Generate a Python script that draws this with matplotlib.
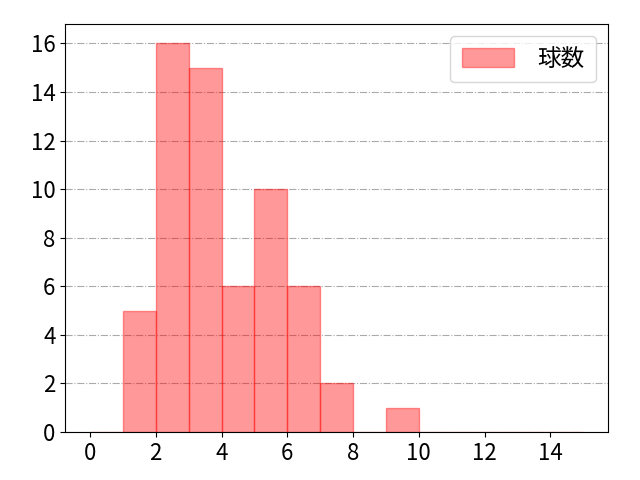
import numpy as np
import matplotlib
matplotlib.use('Agg')
import matplotlib.pyplot as plt

plt.rcParams['font.family'] = ['Noto Sans CJK JP', 'DejaVu Sans']

bin_edges = np.arange(0, 16)
counts = [0, 5, 16, 15, 6, 10, 6, 2, 0, 1, 0, 0, 0, 0, 0]
label = '球数'

fig, ax = plt.subplots(figsize=(6.4, 4.8), dpi=100)
fig.subplots_adjust(left=0.102, right=0.95, top=0.95, bottom=0.1)
ax.hist(bin_edges[:-1], bins=bin_edges, weights=counts, color='red', alpha=0.4,
        edgecolor='red', linewidth=1, label=label)
ax.set_ylim(0, 16.8)
ax.set_xlim(-0.75, 15.75)
ax.set_xticks(range(0, 16, 2))
ax.set_yticks(range(0, 17, 2))
ax.tick_params(labelsize=16)
ax.grid(axis='y', linestyle='-.', color='#aaaaaa', linewidth=0.8)
ax.set_axisbelow(True)
ax.legend(loc='upper right', fontsize=17, handlelength=2.2, handleheight=0.85,
          handletextpad=1.0, borderpad=0.5)
fig.savefig('out.png', dpi=100)
